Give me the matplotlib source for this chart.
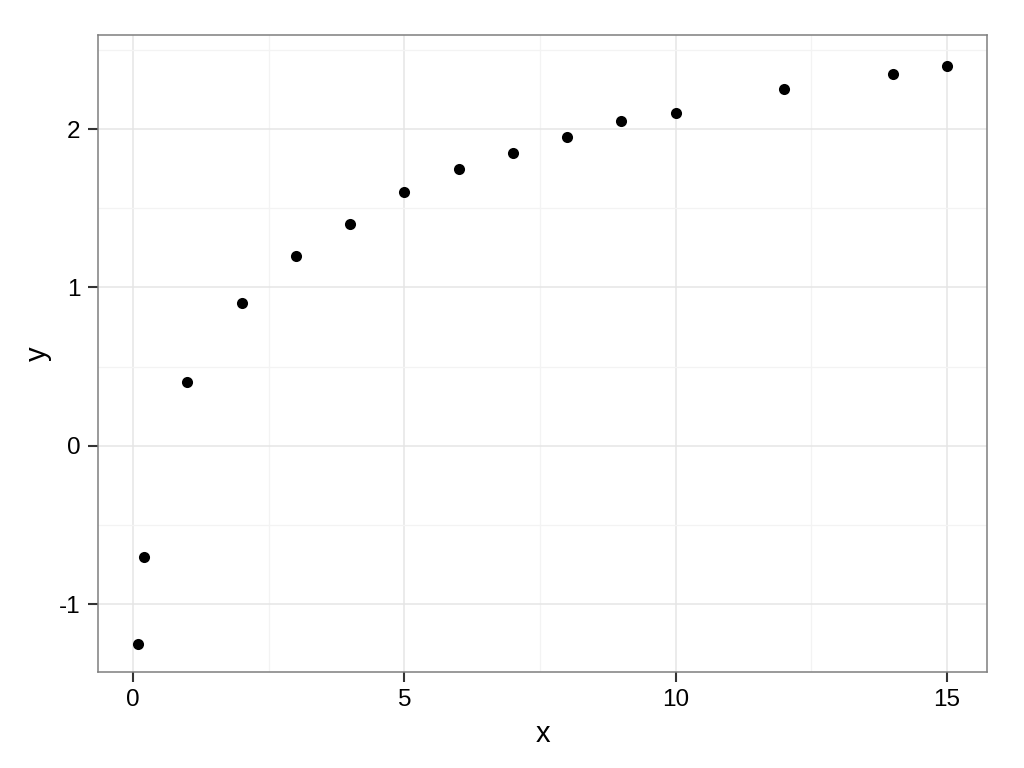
import matplotlib
matplotlib.use("Agg")
import matplotlib.pyplot as plt
from matplotlib.ticker import MultipleLocator

# data
x = [0.1, 0.2, 1, 2, 3, 4, 5, 6, 7, 8, 9, 10, 12, 14, 15]
y = [-1.25, -0.70, 0.40, 0.90, 1.20, 1.40, 1.60, 1.75, 1.85, 1.95, 2.05, 2.10, 2.25, 2.35, 2.40]

plt.rcParams['font.family'] = ['Liberation Sans', 'DejaVu Sans']
plt.rcParams['axes.unicode_minus'] = False

fig = plt.figure(figsize=(10.24, 7.68), dpi=100)
ax = fig.add_axes([98 / 1024, 1 - 672 / 768, (987 - 98) / 1024, (672 - 35) / 768])

ax.scatter(x, y, s=64, color='black', zorder=3, linewidths=0)

ax.set_xlim(-0.645, 15.74)
ax.set_ylim(-1.428, 2.594)

ax.xaxis.set_major_locator(MultipleLocator(5))
ax.xaxis.set_minor_locator(MultipleLocator(2.5))
ax.yaxis.set_major_locator(MultipleLocator(1))
ax.yaxis.set_minor_locator(MultipleLocator(0.5))

ax.grid(which='major', color='#e5e5e5', linewidth=1.1, zorder=0)
ax.grid(which='minor', color='#f3f3f3', linewidth=0.9, zorder=0)
ax.set_axisbelow(True)

for s in ax.spines.values():
    s.set_color('#7f7f7f')
    s.set_linewidth(1.1)

ax.tick_params(which='major', length=7.5, width=1.5, color='#333333',
               labelsize=17.5, labelcolor='black', pad=5)
ax.tick_params(which='minor', length=0)

ax.set_xlabel('x', fontsize=21, labelpad=6)
ax.set_ylabel('y', fontsize=21, labelpad=5)

fig.savefig('out.png', dpi=100)
